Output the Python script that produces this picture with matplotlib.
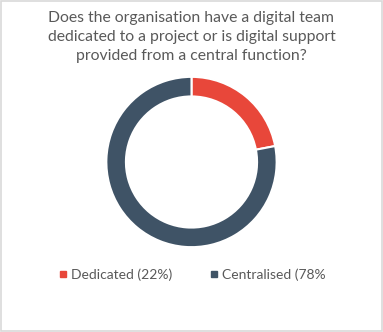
import matplotlib.pyplot as plt
from matplotlib.patches import Rectangle
from matplotlib.lines import Line2D

plt.rcParams['font.family'] = ['Lato', 'DejaVu Sans']

labels = ['Dedicated (22%)', 'Centralised (78%']
values = [22, 78]
colors = ['#E8473A', '#3F5366']
title = ('Does the organisation have a digital team\n'
         'dedicated to a project or is digital support\n'
         'provided from a central function?')

fig = plt.figure(figsize=(3.83, 3.32), dpi=100)
fig.patches.append(Rectangle((0.002, 0.002), 0.995, 0.994, transform=fig.transFigure,
                             fill=False, edgecolor='#D9D9D9', linewidth=1.2))

ax = fig.add_axes([191.5/383 - 86/383, 1 - (162 + 86)/332, 172/383, 172/332])
ax.pie(values, colors=colors, startangle=90, counterclock=False,
       wedgeprops=dict(width=0.23, edgecolor='white', linewidth=1.5))
ax.set_xlim(-1.01, 1.01)
ax.set_ylim(-1.01, 1.01)
ax.set_aspect('equal')

fig.text(0.5, 1 - 37/332, title, ha='center', va='center', fontsize=11.3,
         color='#595959', linespacing=1.45)

handles = [Line2D([], [], marker='s', linestyle='none', markersize=4.5,
                  markerfacecolor=c, markeredgecolor=c) for c in colors]
fig.legend(handles, labels, loc='center', bbox_to_anchor=(0.5, 1 - 275/332),
           ncol=2, frameon=False, fontsize=10, labelcolor='#595959',
           handletextpad=0.2, columnspacing=2.6, handlelength=0.8)

fig.savefig('out.png', dpi=100)
